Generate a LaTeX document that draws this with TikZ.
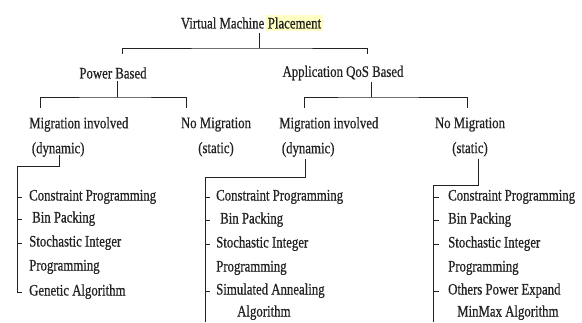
\documentclass[tikz,border=0pt]{standalone}
\usepackage{fontspec}
\setmainfont{Liberation Serif}[FakeStretch=0.8,FakeBold=0.6]
\usepackage{xcolor}
\usetikzlibrary{positioning}
\definecolor{hlyellow}{HTML}{FFFFC4}
\definecolor{inkgray}{HTML}{222222}

\begin{document}
\begin{tikzpicture}[
    x=1pt, y=-1pt,
    txt/.style={inner sep=2pt, text=inkgray,
                font=\fontsize{16}{25}\selectfont},
    algo/.style={txt, anchor=west, text height=10pt, text depth=3pt},
    link/.style={draw=inkgray, line width=1pt}
]
\useasboundingbox (0,0) rectangle (582,322);

% levels 0 and 1
\node[txt] (vmp) at (252,23)
  {Virtual Machine\hspace{1.5pt}{\setlength{\fboxsep}{2pt}\colorbox{hlyellow}{Placement}}};
\node[txt] (pb) at (113,73) {Power Based};
\node[txt] (aq) at (343,73) {Application QoS Based};

% level 2
\node[txt, anchor=west, align=left] (pmig) at (27,137) {Migration involved\\\,(dynamic)};
\node[txt, align=center] (pnom) at (216,137) {No Migration\\(static)};
\node[txt, anchor=west, align=left] (amig) at (277,137) {Migration involved\\\,(dynamic)};
\node[txt, align=center] (anom) at (470,137) {No Migration\\(static)};

% algorithm lists
\node[algo] (lc1) at (27,197) {Constraint Programming};
\node[algo] (lc2) at (30,219) {Bin Packing};
\node[algo] (lc3) at (27,243) {Stochastic Integer};
\node[algo] (lc4) at (27,267) {Programming};
\node[algo] (lc5) at (27,292) {Genetic Algorithm};

\node[algo] (mc1) at (214,197) {Constraint Programming};
\node[algo] (mc2) at (218,220) {Bin Packing};
\node[algo] (mc3) at (214,244) {Stochastic Integer};
\node[algo] (mc4) at (214,268) {Programming};
\node[algo] (mc5) at (214,291) {Simulated Annealing};
\node[algo] (mc6) at (235,313) {Algorithm};

\node[algo] (rc1) at (446,197) {Constraint Programming};
\node[algo] (rc2) at (446,220) {Bin Packing};
\node[algo] (rc3) at (446,244) {Stochastic Integer};
\node[algo] (rc4) at (446,268) {Programming};
\node[algo] (rc5) at (446,291) {Others Power Expand};
\node[algo] (rc6) at (455,313) {MinMax Algorithm};

% tree connectors
\coordinate (t0) at (259,48);
\coordinate (t1) at (122,54);
\coordinate (t2) at (367,54);
\draw[link] (vmp.south -| t0) -- (t0);
\draw[link] (t1) |- (t0) -| (t2);

\coordinate (p0) at (117,97);
\coordinate (p1) at (40,108);
\coordinate (p2) at (186,108);
\draw[link] (pb.south -| p0) -- (p0);
\draw[link] (p1) |- (p0) -| (p2);

\coordinate (a0) at (371,97);
\coordinate (a1) at (304,108);
\coordinate (a2) at (467,108);
\draw[link] (aq.south -| a0) -- (a0);
\draw[link] (a1) |- (a0) -| (a2);

% brackets for the lists
\coordinate (bot) at (0,322);
\coordinate (l1) at (59,166);
\coordinate (l0) at (17,166);
\draw[link] ([yshift=4pt]pmig.south -| l1) -- (l1) -- (l0) -- (l0 |- lc5) -- ++(5,0);
\draw[link] (l0 |- lc1) -- ++(5,0) (l0 |- lc2) -- ++(5,0) (l0 |- lc3) -- ++(5,0);

\coordinate (m1) at (305,177);
\coordinate (m0) at (205,177);
\draw[link] (amig.south -| m1) -- (m1) -- (m0) -- (m0 |- bot);
\draw[link] (m0 |- mc1) -- ++(5,0) (m0 |- mc2) -- ++(5,0)
            (m0 |- mc3) -- ++(5,0) (m0 |- mc5) -- ++(5,0);

\coordinate (r1) at (478,185);
\coordinate (r0) at (433,185);
\draw[link] (anom.south -| r1) -- (r1) -- (r0) -- (r0 |- bot);
\draw[link] (r0 |- rc1) -- ++(6,0) (r0 |- rc2) -- ++(6,0)
            (r0 |- rc3) -- ++(6,0) (r0 |- rc5) -- ++(6,0);
\end{tikzpicture}
\end{document}
